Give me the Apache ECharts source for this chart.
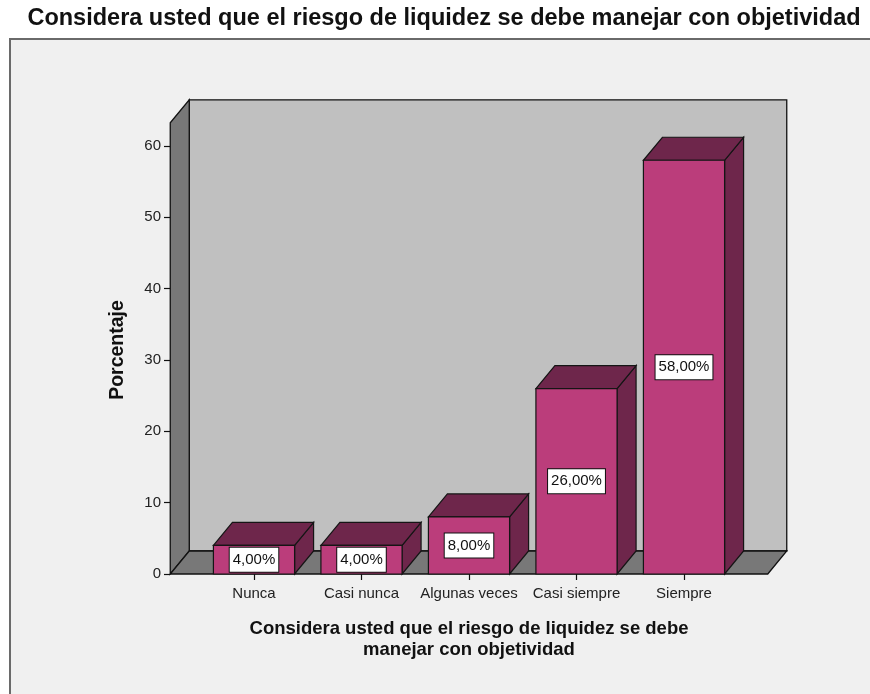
<!DOCTYPE html>
<html>
<head>
<meta charset="utf-8">
<script src="https://cdn.jsdelivr.net/npm/echarts@6/dist/echarts.min.js"></script>
<style>
  html, body { margin: 0; padding: 0; background: #ffffff; }
  #chart { width: 870px; height: 694px; }
</style>
</head>
<body>
<div id="chart"></div>
<script>
// values
var categories = ['Nunca', 'Casi nunca', 'Algunas veces', 'Casi siempre', 'Siempre'];
var percentages = [4, 4, 8, 26, 58];
var wallTop = 63.25; // height of the 3D box, in axis units

var DX = 19, DY = -23;   // depth offset of the 3D look
var PAD = 30;            // floor overhang beyond the first/last band
var FONT = '"Liberation Sans", Arial, sans-serif';

function fmt(v) {
    return v.toFixed(2).replace('.', ',') + '%';
}

// walls + floor, drawn once
function renderBox(params, api) {
    var band = api.size([1, 0])[0];
    var first = api.coord([0, 0]);
    var last = api.coord([categories.length - 1, 0]);
    var x0 = first[0] - band / 2 - PAD;
    var x1 = last[0] + band / 2 + PAD;
    var y0 = first[1];
    var yt = api.coord([0, wallTop])[1];
    var line = { stroke: '#111', lineWidth: 1.3 };
    return {
        type: 'group',
        children: [
            {
                type: 'rect',
                shape: { x: x0 + DX, y: yt + DY, width: x1 - x0, height: y0 - yt },
                style: Object.assign({ fill: '#c0c0c0' }, line)
            },
            {
                type: 'polygon',
                shape: { points: [[x0, y0], [x0, yt], [x0 + DX, yt + DY], [x0 + DX, y0 + DY]] },
                style: Object.assign({ fill: '#787878' }, line)
            },
            {
                type: 'polygon',
                shape: { points: [[x0, y0], [x1, y0], [x1 + DX, y0 + DY], [x0 + DX, y0 + DY]] },
                style: Object.assign({ fill: '#787878' }, line)
            }
        ]
    };
}

function renderBar(params, api) {
    var i = api.value(0), v = api.value(1);
    var base = api.coord([i, 0]);
    var top = api.coord([i, v]);
    var bw = api.size([1, 0])[0] * 0.755;
    var xl = base[0] - bw / 2, xr = base[0] + bw / 2;
    var yb = base[1], yt = top[1];
    var line = { stroke: '#151515', lineWidth: 1.2 };
    return {
        type: 'group',
        children: [
            {
                type: 'polygon',
                shape: { points: [[xr, yb], [xr, yt], [xr + DX, yt + DY], [xr + DX, yb + DY]] },
                style: Object.assign({ fill: '#6e264b' }, line)
            },
            {
                type: 'polygon',
                shape: { points: [[xl, yt], [xr, yt], [xr + DX, yt + DY], [xl + DX, yt + DY]] },
                style: Object.assign({ fill: '#6e264b' }, line)
            },
            {
                type: 'rect',
                shape: { x: xl, y: yt, width: bw, height: yb - yt },
                style: Object.assign({ fill: '#bb3d7b' }, line)
            },
            {
                type: 'text',
                x: base[0],
                y: (yb + yt) / 2,
                style: {
                    text: fmt(v),
                    align: 'center',
                    verticalAlign: 'middle',
                    fill: '#111',
                    font: '15px ' + FONT,
                    backgroundColor: '#ffffff',
                    borderColor: '#111',
                    borderWidth: 1,
                    padding: [5, 3, 4, 3]
                }
            }
        ]
    };
}

var chart = echarts.init(document.getElementById('chart'));

chart.setOption({
    backgroundColor: '#ffffff',
    animation: false,
    graphic: [
        {
            type: 'rect', z: -10,
            shape: { x: 10, y: 39, width: 900, height: 700 },
            style: { fill: '#f0f0f0', stroke: '#6a6a6a', lineWidth: 2 }
        },
        {
            type: 'text', x: 444, y: 19, z: 10,
            style: {
                text: 'Considera usted que el riesgo de liquidez se debe manejar con objetividad',
                align: 'center', verticalAlign: 'middle',
                font: 'bold 23.5px ' + FONT, fill: '#111'
            }
        },
        {
            type: 'text', x: 118, y: 350, rotation: Math.PI / 2, z: 10,
            style: {
                text: 'Porcentaje',
                align: 'center', verticalAlign: 'middle',
                font: 'bold 19.5px ' + FONT, fill: '#111'
            }
        },
        {
            type: 'text', x: 469, y: 639, z: 10,
            style: {
                text: 'Considera usted que el riesgo de liquidez se debe\nmanejar con objetividad',
                align: 'center', verticalAlign: 'middle', lineHeight: 21,
                font: 'bold 18.5px ' + FONT, fill: '#111'
            }
        }
    ],
    grid: { left: 200.25, right: 132.25, top: 146, bottom: 120 },
    xAxis: {
        type: 'category',
        data: categories,
        axisLine: { show: false },
        axisTick: { show: true, alignWithLabel: true, length: 6, lineStyle: { color: '#111', width: 1.2 } },
        axisLabel: { fontFamily: FONT, fontSize: 15, color: '#222', margin: 12, interval: 0 },
        splitLine: { show: false },
        z: 10
    },
    yAxis: {
        type: 'value',
        min: 0, max: 60, interval: 10,
        offset: 30.25,
        axisLine: { show: false },
        axisTick: { show: true, length: 6, lineStyle: { color: '#111', width: 1.2 } },
        axisLabel: { fontFamily: FONT, fontSize: 15, color: '#222', margin: 9 },
        splitLine: { show: false },
        z: 10
    },
    series: [
        {
            type: 'custom',
            renderItem: renderBox,
            data: [[0, 0]],
            encode: { x: 0, y: 1 },
            z: 1,
            silent: true
        },
        {
            type: 'custom',
            renderItem: renderBar,
            data: percentages.map(function (v, i) { return [i, v]; }),
            encode: { x: 0, y: 1 },
            z: 3
        }
    ]
});
</script>
</body>
</html>
